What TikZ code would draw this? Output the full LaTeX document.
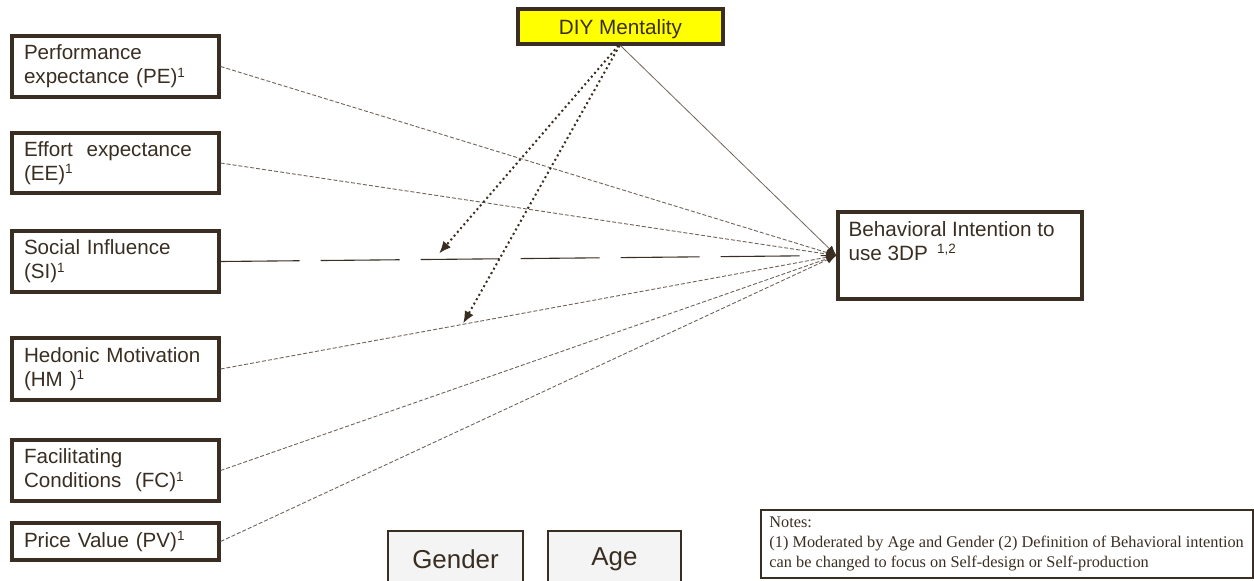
\documentclass[tikz,border=0pt]{standalone}
\usepackage{fontspec}
\setmainfont{Liberation Sans}
\newfontfamily\notesfont{Liberation Serif}
\usetikzlibrary{arrows.meta,calc}

\definecolor{ink}{RGB}{58,46,34}
\definecolor{linkgray}{RGB}{110,100,90}
\definecolor{diyyellow}{RGB}{255,255,0}
\definecolor{modfill}{RGB}{244,244,244}

\newcommand{\supnum}[1]{\raisebox{0.32em}{\fontsize{13.5}{13.5}\selectfont #1}}

\tikzset{
  construct/.style={draw=ink, line width=3.2pt, rectangle, align=left,
    text width=183pt, inner xsep=12pt, inner ysep=0pt,
    font=\fontsize{20.6}{24}\selectfont, text=ink},
  plainbox/.style={draw=ink, line width=3.2pt, rectangle, inner sep=0pt},
  tip/.style={-{Latex[length=10pt,width=8pt,color=ink]}},
  link/.style={tip, draw=linkgray, line width=0.9pt, dash pattern=on 4pt off 2pt},
  sislink/.style={tip, draw=ink, line width=1.1pt, dash pattern=on 79pt off 21pt},
  solidlink/.style={tip, draw=linkgray, line width=0.8pt},
  modarrow/.style={draw=ink, line width=2pt, dash pattern=on 2pt off 3pt,
    -{Latex[length=12pt,width=10pt]}}
}

\begin{document}
\begin{tikzpicture}[x=1pt,y=-1pt]
\useasboundingbox (0,0) rectangle (1254,581);

% predictor constructs
\node[construct, minimum height=61pt] (pe) at (115.5,66.5)
  {Performance\\expectance (PE)\supnum{1}};
\node[construct, minimum height=60pt] (ee) at (115.5,163)
  {Effort\ \ expectance\\(EE)\supnum{1}};
\node[construct, minimum height=61pt] (si) at (115.5,261.5)
  {Social Influence\\(SI)\supnum{1}};
\node[construct, minimum height=62pt] (hm) at (115.5,369)
  {Hedonic Motivation\\(HM )\supnum{1}};
\node[construct, minimum height=61pt] (fc) at (115.5,470.5)
  {Facilitating\\Conditions\ \ (FC)\supnum{1}};
\node[construct, minimum height=37pt] (pv) at (115.5,541.5)
  {Price Value (PV)\supnum{1}};

% moderator on top
\node[plainbox, fill=diyyellow, minimum width=205pt, minimum height=35pt,
  text depth=0pt, font=\fontsize{20.7}{24}\selectfont, text=ink] (diy) at (620.5,26.5) {DIY Mentality};

% outcome construct
\node[plainbox, minimum width=244pt, minimum height=87pt] (bi) at (960,255.5) {};
\node[anchor=north west, align=left, inner sep=0pt, text=ink,
  font=\fontsize{20.7}{24}\selectfont] (bitext) at ([shift={(12,11)}]bi.north west)
  {Behavioral Intention to\\use 3DP\hspace{9pt}\supnum{1,2}};

% age and gender boxes
\node[plainbox, line width=2.4pt, fill=modfill, minimum width=135pt, minimum height=56pt,
  font=\fontsize{25.9}{30}\selectfont, text=ink] (gender) at (455.5,559) {Gender};
\node[plainbox, line width=2.4pt, fill=modfill, minimum width=133pt, minimum height=56pt,
  font=\fontsize{25.9}{30}\selectfont, text=ink] (age) at (614.5,559) {Age};

% notes
\node[draw=ink, line width=1.5pt, rectangle, inner sep=0pt,
  minimum width=492pt, minimum height=68pt] (notes) at (1007,544) {};
\node[anchor=north west, align=left, inner sep=0pt, text=ink,
  font=\notesfont\fontsize{16.3}{20}\selectfont] (notestext)
  at ([shift={(9,7.5)}]notes.north west)
  {Notes:\\(1) Moderated by Age and Gender (2) Definition of Behavioral intention\\can be changed to focus on Self-design or Self-production};

% paths into the outcome
\draw[link] (pe.east) -- (bi.west);
\draw[link] (ee.east) -- (bi.west);
\draw[sislink] (si.east) -- (bi.west);
\draw[link] (hm.east) -- (bi.west);
\draw[link] (fc.east) -- (bi.west);
\draw[link] (pv.east) -- (bi.west);
\draw[solidlink] (diy.south) -- (bi.west);

% moderating effects of DIY mentality
\coordinate (onsi) at ($(si.east)!0.355!(bi.west)+(0,-6)$);
\coordinate (onhm) at ($(hm.east)!0.394!(bi.west)+(0,-1)$);
\draw[modarrow] ([xshift=-2pt]diy.south) -- (onsi);
\draw[modarrow] ([xshift=-1pt]diy.south) -- (onhm);
\end{tikzpicture}
\end{document}
